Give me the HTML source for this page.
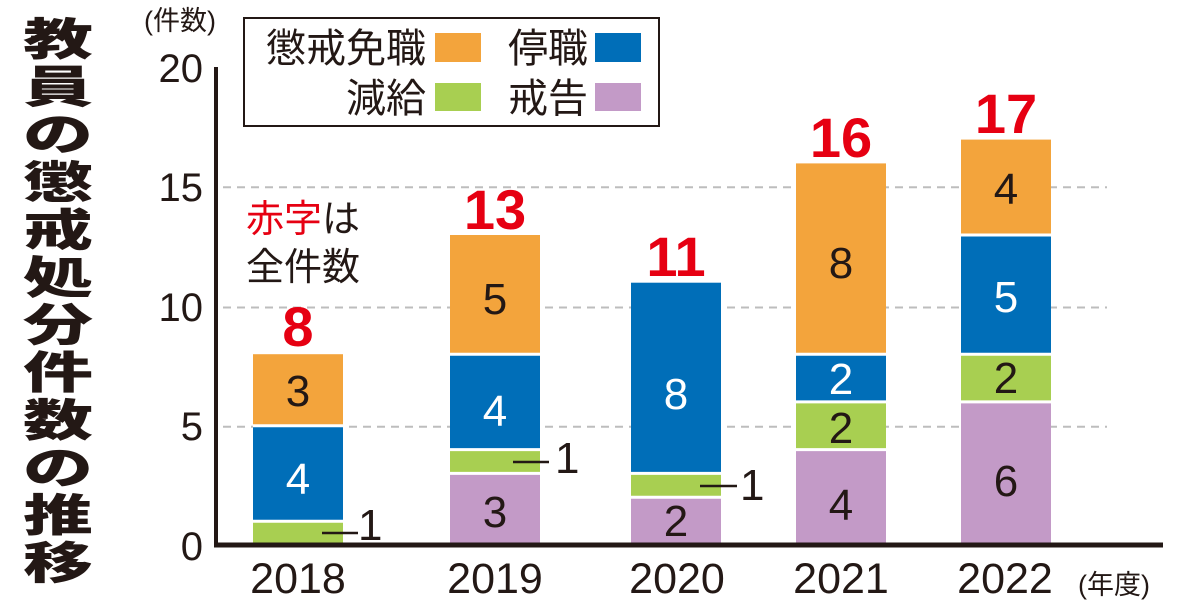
<!DOCTYPE html>
<html><head><meta charset="utf-8"><style>
html,body{margin:0;padding:0;background:#fff;}
svg{display:block;}
text{font-family:"Liberation Sans","Noto Sans CJK JP",sans-serif;fill:#231815;}
.jp{font-family:"Liberation Sans","Noto Sans CJK JP",sans-serif;}
.red text{fill:#e60012;}
.red{font-weight:bold;font-size:56px;}
.in{font-size:44px;}
text.w{fill:#fff;}
text .rd{fill:#e60012;}
</style></head><body>
<svg width="1200" height="609" viewBox="0 0 1200 609" xmlns="http://www.w3.org/2000/svg">
<!-- title -->
<g class="jp" font-size="70" font-weight="900" text-anchor="middle">
<text transform="translate(58,55) scale(1,0.63)">教</text>
<text transform="translate(58,102.6) scale(1,0.63)">員</text>
<text transform="translate(58,150.2) scale(1,0.63)">の</text>
<text transform="translate(58,197.8) scale(1,0.63)">懲</text>
<text transform="translate(58,245.4) scale(1,0.63)">戒</text>
<text transform="translate(58,293) scale(1,0.63)">処</text>
<text transform="translate(58,340.6) scale(1,0.63)">分</text>
<text transform="translate(58,388.2) scale(1,0.63)">件</text>
<text transform="translate(58,435.8) scale(1,0.63)">数</text>
<text transform="translate(58,483.4) scale(1,0.63)">の</text>
<text transform="translate(58,531) scale(1,0.63)">推</text>
<text transform="translate(58,578.6) scale(1,0.63)">移</text>
</g>

<!-- grid -->
<g stroke="#bdbdbd" stroke-width="2" stroke-dasharray="8 6">
<line x1="223" y1="426.7" x2="1107" y2="426.7"/>
<line x1="223" y1="307.5" x2="1107" y2="307.5"/>
<line x1="223" y1="187.2" x2="1107" y2="187.2"/>
</g>

<!-- bars -->
<rect x="253" y="521.2" width="90" height="23.8" fill="#a8cf51"/>
<rect x="253" y="425.8" width="90" height="95.4" fill="#006eb8"/>
<rect x="253" y="354.2" width="90" height="71.6" fill="#f3a43c"/>
<rect x="450" y="473.4" width="90" height="71.6" fill="#c39ac7"/>
<rect x="450" y="449.6" width="90" height="23.8" fill="#a8cf51"/>
<rect x="450" y="354.2" width="90" height="95.4" fill="#006eb8"/>
<rect x="450" y="235" width="90" height="119.2" fill="#f3a43c"/>
<rect x="631" y="497.3" width="90" height="47.7" fill="#c39ac7"/>
<rect x="631" y="473.4" width="90" height="23.9" fill="#a8cf51"/>
<rect x="631" y="282.7" width="90" height="190.7" fill="#006eb8"/>
<rect x="796" y="449.6" width="90" height="95.4" fill="#c39ac7"/>
<rect x="796" y="401.9" width="90" height="47.7" fill="#a8cf51"/>
<rect x="796" y="354.2" width="90" height="47.7" fill="#006eb8"/>
<rect x="796" y="163.4" width="90" height="190.8" fill="#f3a43c"/>
<rect x="961" y="401.9" width="90" height="143.1" fill="#c39ac7"/>
<rect x="961" y="354.2" width="90" height="47.7" fill="#a8cf51"/>
<rect x="961" y="235" width="90" height="119.2" fill="#006eb8"/>
<rect x="961" y="139.6" width="90" height="95.4" fill="#f3a43c"/>

<g stroke="#fff" stroke-width="3">
<line x1="253" y1="521.2" x2="343" y2="521.2"/>
<line x1="253" y1="425.8" x2="343" y2="425.8"/>
<line x1="450" y1="473.4" x2="540" y2="473.4"/>
<line x1="450" y1="449.6" x2="540" y2="449.6"/>
<line x1="450" y1="354.2" x2="540" y2="354.2"/>
<line x1="631" y1="497.3" x2="721" y2="497.3"/>
<line x1="631" y1="473.4" x2="721" y2="473.4"/>
<line x1="796" y1="449.6" x2="886" y2="449.6"/>
<line x1="796" y1="401.9" x2="886" y2="401.9"/>
<line x1="796" y1="354.2" x2="886" y2="354.2"/>
<line x1="961" y1="401.9" x2="1051" y2="401.9"/>
<line x1="961" y1="354.2" x2="1051" y2="354.2"/>
<line x1="961" y1="235" x2="1051" y2="235"/>
</g>

<!-- inner labels -->
<g class="in" text-anchor="middle">
<text x="298" y="406">3</text>
<text x="298" y="494" class="w">4</text>
<text x="495" y="314">5</text>
<text x="495" y="426" class="w">4</text>
<text x="495" y="527">3</text>
<text x="676" y="409" class="w">8</text>
<text x="676" y="536">2</text>
<text x="841" y="278">8</text>
<text x="841" y="394" class="w">2</text>
<text x="841" y="443">2</text>
<text x="841" y="520">4</text>
<text x="1006" y="204">4</text>
<text x="1006" y="312" class="w">5</text>
<text x="1006" y="393">2</text>
<text x="1006" y="496">6</text>
</g>

<!-- "1" callouts -->
<g stroke="#231815" stroke-width="2.5">
<line x1="322" y1="533" x2="358" y2="533"/>
<line x1="513" y1="462" x2="549" y2="462"/>
<line x1="700" y1="486" x2="737" y2="486"/>
</g>
<text class="in" x="358" y="540">1</text>
<text class="in" x="555" y="473">1</text>
<text class="in" x="740" y="500">1</text>

<!-- totals -->
<g class="red" text-anchor="middle">
<text x="298" y="346" fill="#e60012" style="fill:#e60012">8</text>
<text x="495" y="229" fill="#e60012" style="fill:#e60012">13</text>
<text x="676" y="276" fill="#e60012" style="fill:#e60012">11</text>
<text x="841" y="157" fill="#e60012" style="fill:#e60012">16</text>
<text x="1006" y="133" fill="#e60012" style="fill:#e60012">17</text>
</g>

<!-- note -->
<text class="jp" font-size="38" x="246" y="232"><tspan style="fill:#e60012">赤字</tspan>は</text>
<text class="jp" font-size="38" x="246" y="280">全件数</text>

<!-- axes -->
<line x1="216" y1="67" x2="216" y2="547" stroke="#231815" stroke-width="4"/>
<line x1="214" y1="545" x2="1163" y2="545" stroke="#231815" stroke-width="5"/>

<!-- y tick labels -->
<g font-size="40" text-anchor="end">
<text x="203" y="560">0</text>
<text x="203" y="440">5</text>
<text x="203" y="321">10</text>
<text x="203" y="201">15</text>
<text x="203" y="82">20</text>
</g>
<text class="jp" font-size="27" x="144" y="30">(件数)</text>

<!-- x labels -->
<g font-size="43" text-anchor="middle">
<text x="298" y="593">2018</text>
<text x="495" y="593">2019</text>
<text x="677" y="593">2020</text>
<text x="841" y="593">2021</text>
<text x="1005" y="593">2022</text>
</g>
<text class="jp" font-size="27" x="1078" y="594">(年度)</text>

<!-- legend -->
<rect x="244" y="18" width="415" height="108" fill="#fff" stroke="#231815" stroke-width="2"/>
<g class="jp" font-size="40" text-anchor="end">
<text x="426" y="62">懲戒免職</text>
<text x="426" y="112">減給</text>
<text x="588" y="62">停職</text>
<text x="588" y="112">戒告</text>
</g>
<rect x="435" y="33" width="46" height="29" fill="#f3a43c"/>
<rect x="435" y="83" width="46" height="28" fill="#a8cf51"/>
<rect x="595" y="33" width="46" height="29" fill="#006eb8"/>
<rect x="595" y="83" width="46" height="28" fill="#c39ac7"/>
</svg>
</body></html>
